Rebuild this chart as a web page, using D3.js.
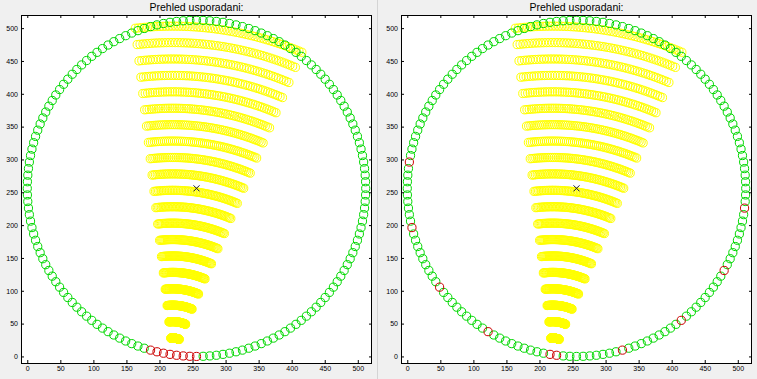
<!DOCTYPE html>
<html>
<head>
<meta charset="utf-8">
<script src="https://cdn.jsdelivr.net/npm/d3@7"></script>
<style>
  body { margin: 0; background: #f0f0f0; }
  svg { display: block; }
</style>
</head>
<body>
<div class="figure"></div>
<script>
// ring of elements (transducers)
const ringCenter = [256, 256];
const ringRadius = 256;
const ringCount = 160;

// fan of yellow points: source point, arc radii, opening angles (deg from vertical)
const fanSource = [220, 3];
const fanRadii = [25, 50, 75, 100, 125, 150, 175, 200, 225, 250,
                  275, 300, 325, 350, 375, 400, 425, 450, 475, 500];
const fanAngles = [-6.5, 23];
const fanPointsPerRow = 56;

// active (red) ring elements for each subplot, as ring indices
const activeLeft = [113, 114, 115, 116, 117, 118, 119, 120];
const activeRight = [76, 86, 96, 106, 116, 117, 127, 137, 147, 157];

const centerMark = [256, 256];
const xTicks = [0, 50, 100, 150, 200, 250, 300, 350, 400, 450, 500];
const yTicks = [0, 50, 100, 150, 200, 250, 300, 350, 400, 450, 500];
const titleText = "Prehled usporadani:";

const fig = { width: 757, height: 379 };
const box = { top: 15, bottom: 363 };
const markerR = 4.1;
const panels = [
  { left: 21, right: 372, active: activeLeft },
  { left: 401, right: 752, active: activeRight }
];

const svg = d3.select(".figure")
  .append("svg")
  .attr("width", fig.width)
  .attr("height", fig.height)
  .style("font-family", "'Liberation Sans', Arial, sans-serif");

svg.append("rect").attr("width", fig.width).attr("height", fig.height).attr("fill", "#f0f0f0");
svg.append("line").attr("x1", 377.5).attr("x2", 377.5).attr("y1", 0).attr("y2", fig.height)
  .attr("stroke", "#d4d4d4");

// build point sets from the data
const ringPts = d3.range(ringCount).map(k => {
  const t = k * 2 * Math.PI / ringCount;
  return { k: k, x: ringCenter[0] + ringRadius * Math.cos(t), y: ringCenter[1] + ringRadius * Math.sin(t) };
});

const fanPts = [];
fanRadii.forEach(r => {
  d3.range(fanPointsPerRow).forEach(i => {
    const a = (fanAngles[0] + (fanAngles[1] - fanAngles[0]) * i / (fanPointsPerRow - 1)) * Math.PI / 180;
    fanPts.push({ x: fanSource[0] + r * Math.sin(a), y: fanSource[1] + r * Math.cos(a) });
  });
});

panels.forEach(p => {
  const x = d3.scaleLinear().domain([-9.5, 521.5]).range([p.left, p.right]);
  const y = d3.scaleLinear().domain([-10, 520]).range([box.bottom, box.top]);
  const g = svg.append("g");

  g.append("rect")
    .attr("x", p.left).attr("y", box.top)
    .attr("width", p.right - p.left).attr("height", box.bottom - box.top)
    .attr("fill", "white");

  // yellow fan
  g.selectAll(".fan").data(fanPts).enter().append("circle")
    .attr("cx", d => x(d.x)).attr("cy", d => y(d.y)).attr("r", markerR)
    .attr("fill", "none").attr("stroke", "#ffff00").attr("stroke-width", 1);

  // green ring (inactive elements)
  g.selectAll(".ring").data(ringPts.filter(d => p.active.indexOf(d.k) < 0)).enter().append("circle")
    .attr("cx", d => x(d.x)).attr("cy", d => y(d.y)).attr("r", markerR)
    .attr("fill", "none").attr("stroke", "#00d800").attr("stroke-width", 1);

  // red active elements
  g.selectAll(".act").data(ringPts.filter(d => p.active.indexOf(d.k) >= 0)).enter().append("circle")
    .attr("cx", d => x(d.x)).attr("cy", d => y(d.y)).attr("r", markerR)
    .attr("fill", "none").attr("stroke", "#cc0000").attr("stroke-width", 1);

  // centre cross
  const cx = x(centerMark[0]), cy = y(centerMark[1]);
  g.append("path")
    .attr("d", `M${cx-3},${cy-3}L${cx+3},${cy+3}M${cx-3},${cy+3}L${cx+3},${cy-3}`)
    .attr("stroke", "#151545").attr("stroke-width", 1);

  // axes with inward ticks
  g.append("g").attr("transform", `translate(0,${box.bottom})`)
    .call(d3.axisBottom(x).tickValues(xTicks).tickSizeInner(-3).tickSizeOuter(0).tickPadding(3));
  g.append("g").attr("transform", `translate(${p.left},0)`)
    .call(d3.axisLeft(y).tickValues(yTicks).tickSizeInner(-3).tickSizeOuter(0).tickPadding(3));
  g.append("g").attr("transform", `translate(0,${box.top})`)
    .call(d3.axisTop(x).tickValues(xTicks).tickSizeInner(-3).tickSizeOuter(0).tickFormat(""));
  g.append("g").attr("transform", `translate(${p.right},0)`)
    .call(d3.axisRight(y).tickValues(yTicks).tickSizeInner(-3).tickSizeOuter(0).tickFormat(""));
  g.selectAll(".domain").remove();
  g.selectAll(".tick text").attr("font-size", 7).attr("font-family", "'Liberation Sans', Arial, sans-serif").attr("fill", "#000");

  g.append("rect")
    .attr("x", p.left + 0.5).attr("y", box.top + 0.5)
    .attr("width", p.right - p.left - 1).attr("height", box.bottom - box.top)
    .attr("fill", "none").attr("stroke", "black");

  g.append("text")
    .attr("x", (p.left + p.right) / 2).attr("y", 11)
    .attr("text-anchor", "middle")
    .attr("font-size", 10.5)
    .text(titleText);
});
</script>
</body>
</html>
